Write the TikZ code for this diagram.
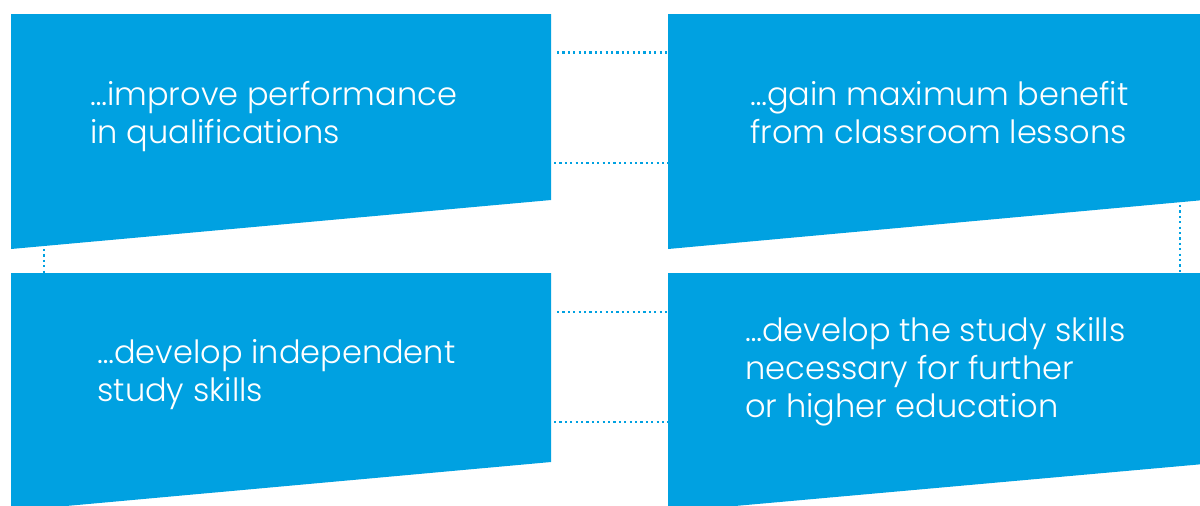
\documentclass[tikz,border=0pt]{standalone}
\usepackage{tikz}
\usepackage{fontspec}
\setmainfont{Poppins}[UprightFont=* Light]
\definecolor{boxblue}{RGB}{0,161,225}

\begin{document}
\begin{tikzpicture}[x=0.5pt,y=0.5pt,yscale=-1,xscale=1,
  box/.style={fill=boxblue,draw=none},
  link/.style={draw=boxblue,line width=1.3pt,dash pattern=on 1.1pt off 1.6pt},
  boxtext/.style={text=white,align=left,anchor=base west,inner sep=0pt,font=\fontsize{16}{19}\selectfont}]
\useasboundingbox (0,0) rectangle (1200,505);
\begin{scope}
\clip (0,0) rectangle (1200,505);

%Shape: Box [id:qual] 
\draw [box] (11,14) -- (551,14) -- (551,200) -- (11,249) -- cycle ;
%Shape: Box [id:bene] 
\draw [box] (668,14) -- (1215,14) -- (1215,199) -- (668,249) -- cycle ;
%Shape: Box [id:indep] 
\draw [box] (11,273) -- (551,273) -- (551,462) -- (11,511) -- cycle ;
%Shape: Box [id:further] 
\draw [box] (668,273) -- (1215,273) -- (1215,463) -- (668,512) -- cycle ;
\end{scope}

%Connector ends
\coordinate (qualR1) at (557,52.5);
\coordinate (beneL1) at (668,52.5);
\coordinate (qualR2) at (554,163);
\coordinate (beneL2) at (668,163);
\coordinate (qualB) at (44,249);
\coordinate (indepT) at (44,273);
\coordinate (beneB) at (1180,205);
\coordinate (furtherT) at (1180,273);
\coordinate (indepR1) at (557,312);
\coordinate (furtherL1) at (668,312);
\coordinate (indepR2) at (554,422);
\coordinate (furtherL2) at (668,422);

%Straight Lines [id:links] 
\draw [link] (qualR1) -- (beneL1) ;
\draw [link] (qualR2) -- (beneL2) ;
\draw [link] (qualB) -- (indepT) ;
\draw [link] (beneB) -- (furtherT) ;
\draw [link] (indepR1) -- (furtherL1) ;
\draw [link] (indepR2) -- (furtherL2) ;

% Text Node
\node [boxtext] (qualtxt) at (90,143) {…improve performance\\in qualifications};
% Text Node
\node [boxtext] (benetxt) at (750,143) {…gain maximum benefit\\from classroom lessons};
% Text Node
\node [boxtext] (indeptxt) at (97,401) {…develop independent\\study skills};
% Text Node
\node [boxtext] (furthertxt) at (745,417) {…develop the study skills\\necessary for further\\or higher education};

\end{tikzpicture}
\end{document}
